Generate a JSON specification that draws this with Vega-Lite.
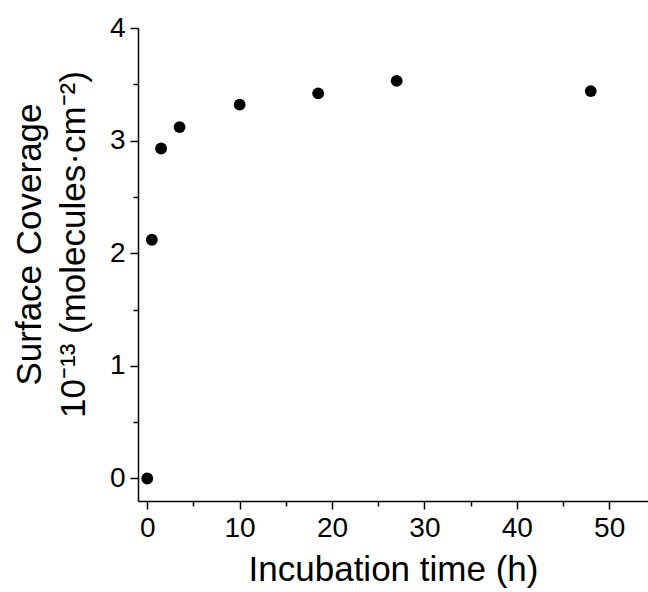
{
  "$schema": "https://vega.github.io/schema/vega-lite/v6.json",
  "autosize": "none",
  "width": 510,
  "height": 473,
  "padding": {"left": 138, "top": 28, "right": 0, "bottom": 91},
  "background": "white",
  "config": {
    "view": {"stroke": null},
    "font": "Liberation Sans",
    "axis": {
      "grid": false,
      "domainColor": "black",
      "domainWidth": 1.5,
      "tickColor": "black",
      "tickWidth": 1.5,
      "labelColor": "black",
      "titleColor": "black",
      "labelFont": "Liberation Sans",
      "titleFont": "Liberation Sans",
      "titleFontWeight": "normal",
      "labelFontSize": 28,
      "titleFontSize": 35
    }
  },
  "data": {
    "values": [
      {"time": 0, "coverage": 0},
      {"time": 0.5, "coverage": 2.12},
      {"time": 1.5, "coverage": 2.93},
      {"time": 3.5, "coverage": 3.12},
      {"time": 10, "coverage": 3.32},
      {"time": 18.5, "coverage": 3.42},
      {"time": 27, "coverage": 3.53},
      {"time": 48, "coverage": 3.44}
    ]
  },
  "layer": [
    {
      "mark": {"type": "point", "filled": true, "color": "black", "opacity": 1, "size": 140},
      "encoding": {
        "x": {
          "field": "time", "type": "quantitative",
          "scale": {"domain": [-1, 54.2], "nice": false, "zero": false},
          "axis": {
            "orient": "bottom",
            "values": [0, 10, 20, 30, 40, 50],
            "tickSize": 8,
            "labelPadding": 5,
            "labelFlush": false,
            "title": "Incubation time (h)",
            "titlePadding": 10
          }
        },
        "y": {
          "field": "coverage", "type": "quantitative",
          "scale": {"domain": [-0.2, 4], "nice": false, "zero": false},
          "axis": {
            "orient": "left",
            "values": [0, 1, 2, 3, 4],
            "tickSize": 8,
            "labelPadding": 5,
            "labelFlush": false,
            "title": ["Surface Coverage", "10⁻¹³ (molecules·cm⁻²)"],
            "titleLineHeight": 44,
            "titlePadding": 18,
            "titleY": 216
          }
        }
      }
    },
    {
      "mark": {"type": "point", "filled": true, "opacity": 0},
      "encoding": {
        "x": {
          "field": "time", "type": "quantitative",
          "axis": {
            "orient": "bottom",
            "values": [5, 15, 25, 35, 45],
            "tickSize": 5,
            "labels": false,
            "domain": false,
            "title": null
          }
        },
        "y": {
          "field": "coverage", "type": "quantitative",
          "axis": {
            "orient": "left",
            "values": [0.5, 1.5, 2.5, 3.5],
            "tickSize": 5,
            "labels": false,
            "domain": false,
            "title": null
          }
        }
      }
    }
  ],
  "resolve": {"axis": {"x": "independent", "y": "independent"}}
}
